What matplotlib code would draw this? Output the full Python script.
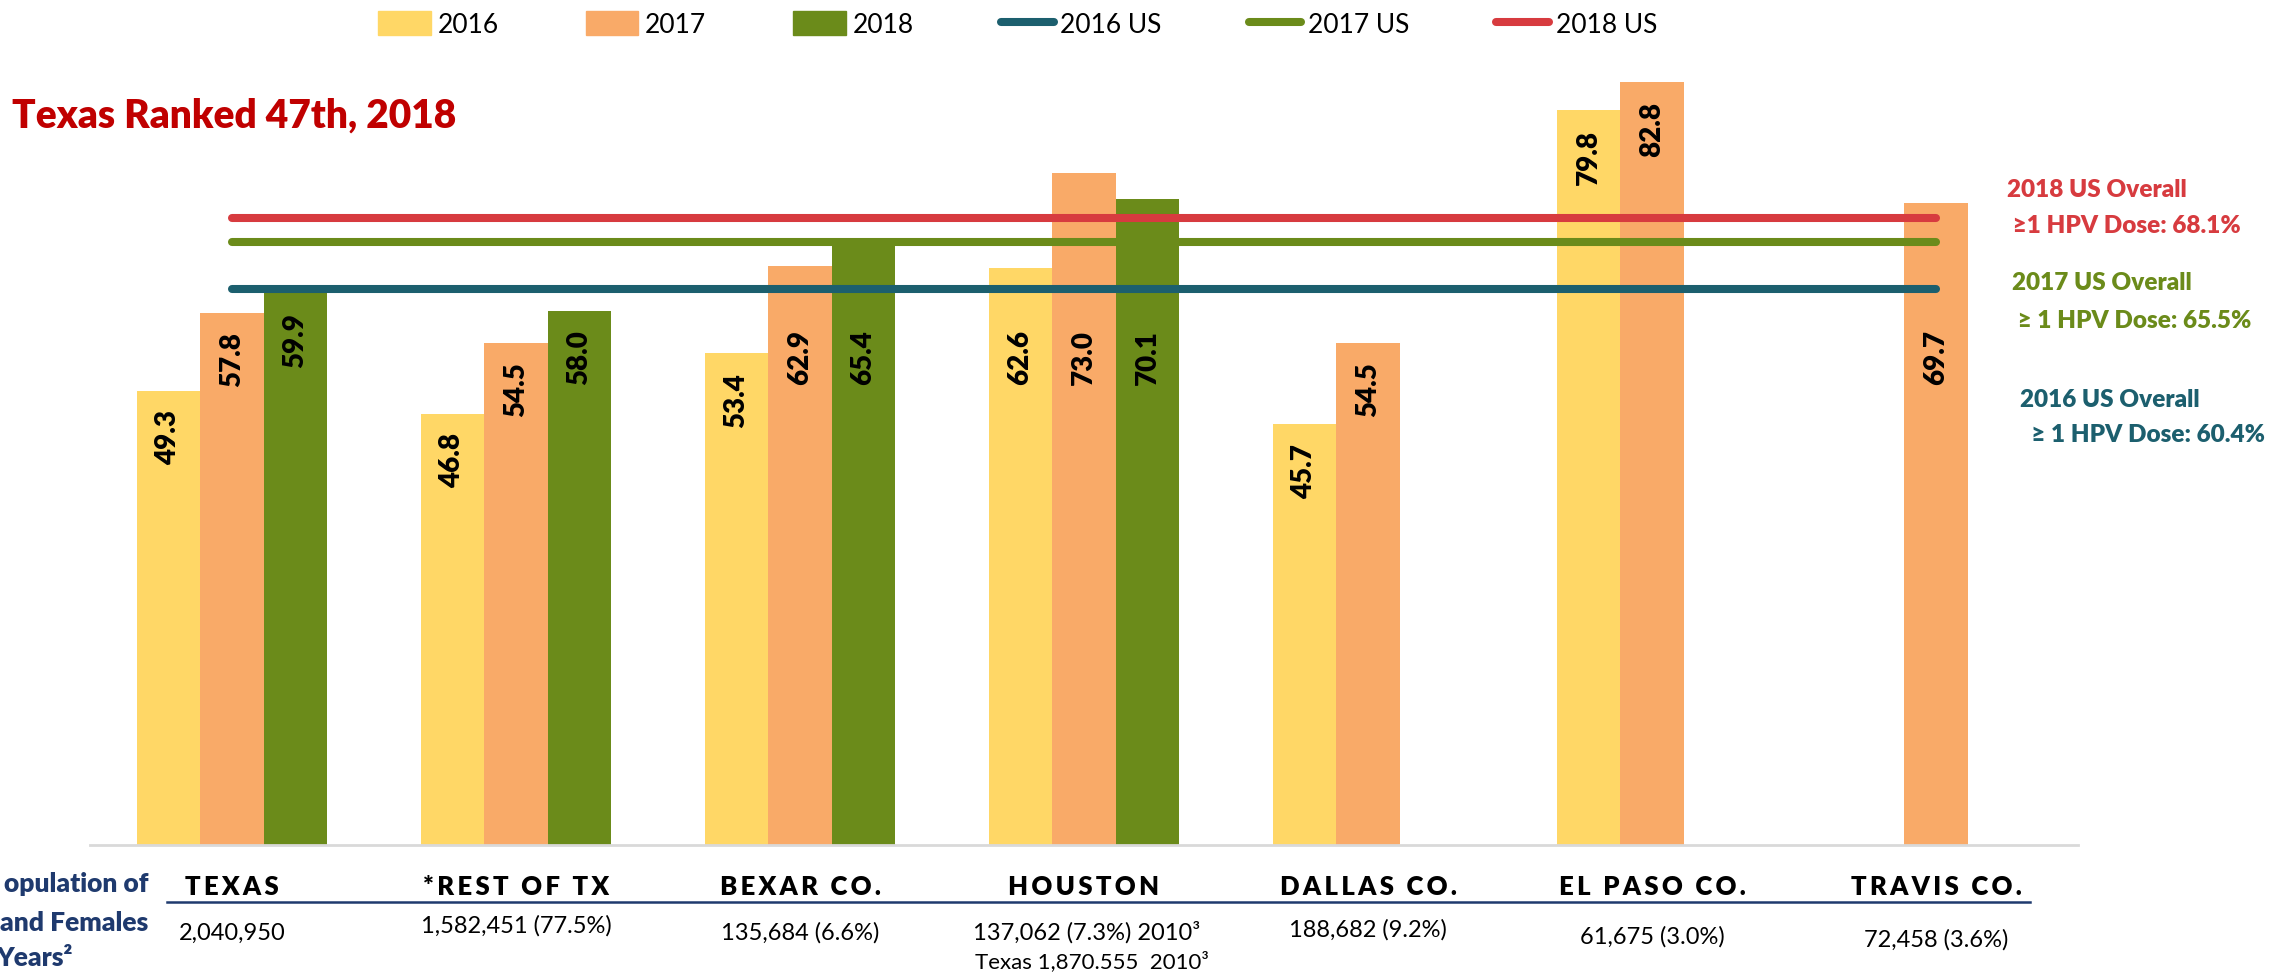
import numpy as np
import matplotlib.pyplot as plt
from matplotlib.lines import Line2D
from matplotlib.patches import Patch
from matplotlib.transforms import blended_transform_factory

plt.rcParams['font.family'] = ['Lato', 'DejaVu Sans']

# data
categories = ["TEXAS", "*REST OF TX", "BEXAR CO.", "HOUSTON", "DALLAS CO.", "EL PASO CO.", "TRAVIS CO."]
years = ["2016", "2017", "2018"]
v2016 = [49.3, 46.8, 53.4, 62.6, 45.7, 79.8, np.nan]
v2017 = [57.8, 54.5, 62.9, 73.0, 54.5, 82.8, 69.7]
v2018 = [59.9, 58.0, 65.4, 70.1, np.nan, np.nan, np.nan]
us_labels = ["2016 US", "2017 US", "2018 US"]
us_rates = [60.4, 65.5, 68.1]
populations = ["2,040,950", "1,582,451 (77.5%)", "135,684 (6.6%)", "137,062 (7.3%) 2010\u00b3",
               "188,682 (9.2%)", "61,675 (3.0%)", "72,458 (3.6%)"]
houston_note = "Texas 1,870.555  2010\u00b3"

bar_colors = ["#FFD766", "#F9AA68", "#6B8B1A"]
line_colors = ["#1C5F6E", "#6B8B1A", "#D73B3F"]

W, H = 2275, 979
fig = plt.figure(figsize=(W / 100, H / 100), dpi=100)
ax = fig.add_axes([90 / W, 1 - 846 / H, (2078 - 90) / W, 829 / H])

x = np.arange(len(categories))
bw = 0.224
series = [v2016, v2017, v2018]
for i, vals in enumerate(series):
    vals = np.array(vals, dtype=float)
    xs = x + (i - 1) * bw
    ok = ~np.isnan(vals)
    ax.bar(xs[ok], vals[ok], width=bw, color=bar_colors[i], zorder=2)
    for xx, v in zip(xs[ok], vals[ok]):
        # move labels below the US reference lines where the bar crosses them
        mid = 53 if (v > 61.4 and v - 8 < 69) else v - 5
        ax.text(xx, mid, f"{v:.1f}", rotation=90, ha='center', va='center',
                fontsize=20, fontweight='heavy', color='black', zorder=4)

for rate, c in zip(us_rates, line_colors):
    ax.plot([x[0], x[-1]], [rate, rate], color=c, lw=5.8, solid_capstyle='round', zorder=3)

ax.set_xlim(-0.5, 6.5)
ax.set_ylim(0, 90)
ax.set_xticks([])
ax.set_yticks([])
for s in ['top', 'right', 'left']:
    ax.spines[s].set_visible(False)
ax.spines['bottom'].set_color('#D9D9D9')
ax.spines['bottom'].set_linewidth(2)

# legend
handles = [Patch(color=c) for c in bar_colors] + \
          [Line2D([0], [0], color=c, lw=5.8, solid_capstyle='round') for c in line_colors]
fig.legend(handles, years + us_labels, loc='center left', bbox_to_anchor=(378 / W, 1 - 25 / H),
           ncol=6, frameon=False, fontsize=19, handlelength=2.0, handleheight=1.0,
           handletextpad=0.25, columnspacing=3.3, borderpad=0, borderaxespad=0)

def fx(px):
    return px / W

def fy(py):
    return 1 - py / H

fig.text(fx(12), fy(116), "Texas Ranked 47th, 2018", color="#C00000", fontsize=28,
         fontweight='heavy', va='center', ha='left')

# US reference annotations on the right
notes = [("2018 US Overall", " \u22651 HPV Dose: 68.1%", 190, 226),
         ("2017 US Overall", " \u2265 1 HPV Dose: 65.5%", 283, 321),
         ("2016 US Overall", "  \u2265 1 HPV Dose: 60.4%", 400, 435)]
note_x = [2007, 2012, 2020]
for (a, b, y1, y2), c, nx in zip(notes, line_colors[::-1], note_x):
    fig.text(fx(nx), fy(y1), a, color=c, fontsize=17.5, fontweight='heavy', va='center')
    fig.text(fx(nx), fy(y2), b, color=c, fontsize=17.5, fontweight='heavy', va='center')

# category table under the chart
tr = blended_transform_factory(ax.transData, fig.transFigure)
for xi, name in zip(x, categories):
    ax.text(xi, fy(887), "\u2009".join(name), transform=tr, ha='center', va='center',
            fontsize=18.5, fontweight='heavy', color='black')
fig.add_artist(Line2D([fx(167), fx(2030)], [fy(903), fy(903)], color="#1F3A6E", lw=1.8))

pop_y = [933, 926, 933, 932, 930, 937, 940]
for xi, txt, py in zip(x, populations, pop_y):
    if txt.startswith("137,062"):
        ax.text(xi - 0.39, fy(py), txt, transform=tr, ha='left', va='center', fontsize=17)
        ax.text(xi - 0.385, fy(962), houston_note, transform=tr, ha='left', va='center', fontsize=16)
    else:
        ax.text(xi, fy(py), txt, transform=tr, ha='center', va='center', fontsize=17)

navy = "#1F3A6E"
fig.text(fx(148), fy(884), "opulation of", color=navy, fontsize=19, fontweight='heavy',
         ha='right', va='center')
fig.text(fx(148), fy(923), "and Females", color=navy, fontsize=19, fontweight='heavy',
         ha='right', va='center')
fig.text(fx(73), fy(958), "Years\u00b2", color=navy, fontsize=19, fontweight='heavy',
         ha='right', va='center')

fig.savefig("out.png", dpi=100)
